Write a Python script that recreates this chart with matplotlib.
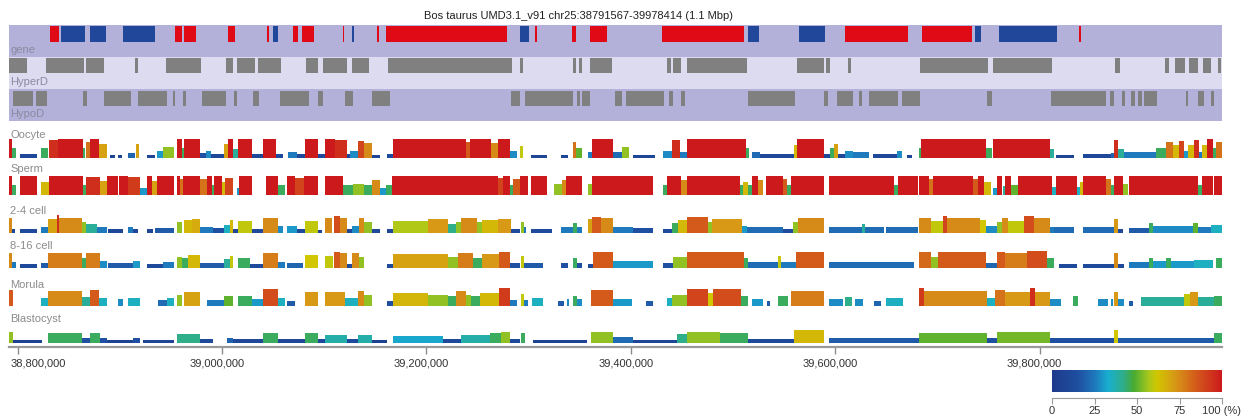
import matplotlib
matplotlib.use('Agg')
import matplotlib.pyplot as plt
import numpy as np
from matplotlib.colors import LinearSegmentedColormap
from matplotlib.transforms import ScaledTranslation, blended_transform_factory

plt.rcParams['font.family'] = ['Liberation Sans', 'DejaVu Sans']

REGION_START = 38791567
REGION_END = 39978414
title = 'Bos taurus UMD3.1_v91 chr25:38791567-39978414 (1.1 Mbp)'

# all positions below are kb from REGION_START
# genes: (start, end, strand)
genes = [(40, 49, '+'), (51, 74, '-'), (79, 95, '-'), (112, 143, '-'), (162, 169, '+'),
         (171, 183, '+'), (214, 221, '+'), (252, 254, '+'), (258, 263, '-'), (278, 283, '+'),
         (287, 298, '+'), (327, 328, '+'), (336, 338, '-'), (360, 362, '+'), (369, 487, '+'),
         (500, 509, '-'), (515, 517, '+'), (551, 555, '+'), (568, 585, '+'), (639, 719, '+'),
         (723, 734, '-'), (773, 798, '-'), (818, 880, '+'), (893, 942, '+'), (945, 951, '-'),
         (969, 1025, '-'), (1047, 1049, '+')]

hyper_d = [(0, 18), (36, 73), (75, 93), (123, 126), (154, 188), (212, 219), (223, 241),
           (244, 266), (291, 302), (307, 331), (336, 352), (371, 492), (500, 503), (552, 555),
           (558, 561), (568, 590), (644, 648), (650, 658), (663, 722), (771, 797), (799, 803),
           (821, 824), (891, 958), (963, 1021), (1082, 1087), (1131, 1135), (1141, 1151),
           (1155, 1163), (1168, 1176), (1183, 1186)]

hypo_d = [(4, 23), (26, 37), (72, 76), (93, 119), (126, 155), (160, 162), (170, 173),
          (189, 212), (220, 223), (239, 245), (265, 294), (302, 307), (329, 337), (355, 373),
          (491, 500), (505, 552), (556, 559), (561, 568), (593, 600), (604, 641), (646, 650),
          (658, 661), (723, 769), (797, 801), (810, 826), (832, 835), (841, 870), (874, 891),
          (957, 962), (1020, 1073), (1077, 1081), (1089, 1092), (1098, 1102), (1105, 1109),
          (1111, 1123), (1152, 1154), (1163, 1169), (1176, 1179)]

# methylation: (start, end, percent)
oocyte = [(0, 3, 100), (3, 7, 45), (11, 27, 10), (31, 38, 45), (39, 48, 95), (48, 72, 100),
          (72, 74, 45), (75, 79, 80), (79, 88, 100), (88, 96, 70), (99, 104, 8), (107, 111, 8),
          (116, 123, 20), (124, 127, 70), (135, 143, 8), (145, 151, 30), (151, 161, 55),
          (164, 169, 100), (169, 171, 45), (171, 187, 100), (187, 193, 15), (193, 198, 28),
          (198, 210, 10), (210, 214, 70), (214, 219, 100), (219, 224, 40), (224, 238, 100),
          (238, 249, 10), (249, 261, 100), (261, 268, 12), (273, 282, 25), (282, 290, 10),
          (290, 302, 100), (302, 309, 12), (309, 319, 100), (319, 331, 95), (331, 334, 10),
          (334, 341, 28), (341, 347, 90), (347, 355, 75), (355, 363, 8), (370, 376, 10),
          (376, 447, 100), (447, 451, 85), (451, 472, 100), (472, 478, 75), (478, 490, 100),
          (490, 497, 28), (500, 503, 60), (511, 526, 8), (540, 547, 8), (552, 555, 80),
          (555, 561, 50), (567, 570, 25), (570, 591, 100), (591, 600, 22), (600, 607, 55),
          (611, 632, 8), (640, 649, 28), (649, 657, 95), (657, 663, 25), (663, 721, 100),
          (721, 724, 45), (727, 735, 22), (735, 768, 10), (768, 771, 65), (771, 797, 100),
          (797, 803, 10), (803, 807, 45), (807, 811, 70), (811, 818, 10), (818, 826, 28),
          (826, 841, 25), (845, 869, 10), (869, 874, 28), (879, 884, 8), (890, 892, 45),
          (892, 956, 100), (956, 962, 45), (963, 1019, 100), (1019, 1022, 40), (1024, 1042, 8),
          (1051, 1078, 10), (1078, 1081, 20), (1081, 1085, 95), (1085, 1091, 40),
          (1091, 1122, 25), (1122, 1132, 45), (1132, 1139, 80), (1139, 1145, 65),
          (1145, 1150, 90), (1150, 1154, 30), (1154, 1159, 65), (1159, 1164, 95),
          (1164, 1167, 25), (1167, 1172, 65), (1172, 1178, 100), (1178, 1181, 45),
          (1181, 1187, 80)]

sperm = [(0, 3, 100), (3, 7, 45), (11, 27, 100), (31, 39, 65), (39, 72, 100), (72, 75, 45),
         (75, 89, 95), (89, 96, 70), (96, 107, 100), (108, 116, 100), (116, 128, 92),
         (128, 135, 30), (135, 140, 100), (140, 145, 70), (145, 161, 100), (164, 167, 100),
         (167, 170, 80), (170, 187, 100), (187, 194, 80), (194, 199, 100), (199, 201, 45),
         (201, 208, 100), (208, 211, 65), (211, 219, 90), (223, 225, 30), (225, 238, 100),
         (251, 263, 100), (263, 270, 45), (272, 280, 100), (280, 289, 90), (289, 302, 100),
         (309, 327, 100), (327, 337, 45), (337, 347, 55), (347, 355, 45), (355, 363, 75),
         (363, 369, 30), (369, 375, 45), (375, 478, 100), (478, 483, 90), (483, 490, 100),
         (490, 493, 45), (493, 500, 85), (500, 508, 100), (511, 526, 100), (533, 541, 55),
         (541, 545, 75), (545, 561, 100), (567, 570, 55), (570, 630, 100), (640, 644, 45),
         (644, 658, 100), (658, 663, 75), (663, 715, 100), (715, 718, 45), (718, 723, 65),
         (723, 727, 45), (727, 733, 100), (733, 738, 75), (741, 757, 100), (757, 761, 85),
         (761, 765, 45), (765, 797, 100), (802, 866, 100), (866, 870, 45), (870, 889, 100),
         (890, 900, 100), (900, 904, 80), (904, 943, 100), (943, 948, 85), (948, 954, 100),
         (954, 961, 65), (963, 967, 30), (967, 972, 100), (973, 975, 40), (975, 980, 100),
         (980, 987, 50), (987, 1021, 100), (1021, 1024, 35), (1024, 1045, 100),
         (1045, 1048, 35), (1048, 1051, 65), (1051, 1073, 100), (1073, 1078, 80),
         (1078, 1081, 45), (1081, 1090, 100), (1090, 1095, 55), (1096, 1163, 100),
         (1163, 1167, 45), (1167, 1178, 100), (1179, 1187, 100)]

cell_2_4 = [(0, 3, 75), (3, 6, 10), (11, 27, 12), (31, 38, 25), (38, 47, 70), (47, 49, 95),
            (49, 71, 75), (71, 75, 55), (75, 86, 40), (86, 96, 25), (97, 112, 10),
            (116, 121, 25), (121, 126, 10), (135, 141, 10), (143, 161, 18), (164, 169, 55),
            (171, 179, 65), (179, 187, 68), (187, 200, 25), (200, 210, 15), (210, 216, 35),
            (216, 219, 65), (219, 224, 10), (224, 238, 60), (238, 249, 12), (249, 263, 75),
            (263, 268, 28), (272, 282, 30), (282, 290, 12), (290, 302, 60), (302, 306, 8),
            (309, 316, 75), (318, 324, 88), (324, 331, 75), (331, 336, 10), (336, 342, 28),
            (342, 347, 75), (347, 355, 55), (355, 363, 10), (370, 376, 10), (376, 410, 58),
            (410, 430, 72), (430, 437, 42), (437, 442, 55), (442, 458, 75), (458, 463, 55),
            (463, 478, 65), (478, 491, 72), (491, 500, 12), (501, 504, 55), (504, 506, 25),
            (511, 531, 12), (540, 552, 25), (552, 556, 45), (556, 561, 25), (567, 570, 70),
            (570, 579, 85), (579, 591, 75), (591, 611, 25), (611, 630, 15), (640, 649, 12),
            (649, 655, 45), (655, 663, 65), (663, 684, 85), (684, 688, 55), (688, 717, 72),
            (717, 722, 30), (722, 757, 22), (757, 767, 12), (767, 772, 55), (772, 797, 75),
            (802, 835, 22), (835, 838, 40), (838, 856, 22), (858, 889, 22), (890, 902, 75),
            (902, 914, 60), (914, 918, 90), (918, 950, 75), (950, 956, 62), (956, 967, 28),
            (967, 972, 55), (972, 977, 75), (977, 993, 60), (993, 1003, 88), (1003, 1019, 75),
            (1019, 1022, 25), (1022, 1042, 22), (1051, 1081, 22), (1081, 1085, 72),
            (1085, 1090, 12), (1096, 1115, 18), (1115, 1119, 45), (1119, 1158, 28),
            (1158, 1163, 50), (1163, 1176, 25), (1176, 1187, 35)]

cell_8_16 = [(0, 3, 75), (3, 7, 25), (11, 27, 12), (31, 38, 18), (38, 71, 78), (71, 75, 45),
             (75, 89, 78), (89, 96, 28), (97, 121, 18), (121, 128, 30), (135, 151, 12),
             (151, 161, 25), (164, 169, 55), (169, 175, 45), (175, 187, 65), (187, 210, 18),
             (210, 216, 40), (216, 219, 60), (224, 236, 45), (236, 249, 12), (249, 263, 78),
             (263, 270, 25), (272, 288, 20), (290, 302, 62), (309, 317, 60), (318, 324, 85),
             (324, 331, 75), (331, 336, 10), (336, 342, 75), (342, 347, 55), (370, 376, 10),
             (376, 430, 70), (430, 439, 55), (439, 454, 78), (454, 463, 45), (463, 479, 72),
             (479, 490, 85), (490, 500, 15), (501, 504, 60), (504, 522, 18), (540, 547, 15),
             (552, 556, 45), (556, 561, 15), (567, 571, 12), (571, 591, 85), (591, 630, 30),
             (640, 650, 15), (650, 663, 55), (663, 719, 85), (719, 723, 45), (723, 752, 22),
             (752, 755, 60), (755, 770, 25), (770, 797, 85), (802, 885, 22), (890, 902, 82),
             (902, 909, 55), (909, 956, 85), (956, 967, 20), (967, 975, 85), (975, 996, 78),
             (996, 1016, 88), (1016, 1022, 45), (1027, 1045, 12), (1051, 1081, 12),
             (1081, 1085, 75), (1085, 1091, 12), (1096, 1115, 25), (1115, 1119, 45),
             (1119, 1132, 30), (1132, 1137, 45), (1137, 1159, 30), (1159, 1178, 35),
             (1181, 1187, 45)]

morula = [(0, 4, 85), (31, 38, 35), (38, 71, 75), (71, 79, 40), (79, 88, 85), (88, 96, 35),
          (107, 112, 28), (116, 128, 35), (146, 155, 22), (155, 161, 35), (164, 169, 55),
          (171, 187, 70), (194, 210, 25), (210, 219, 50), (224, 238, 45), (238, 249, 30),
          (249, 263, 88), (263, 270, 35), (272, 280, 18), (290, 302, 72), (309, 329, 72),
          (329, 341, 35), (341, 347, 75), (347, 355, 55), (370, 376, 15), (376, 410, 66),
          (410, 430, 55), (430, 437, 45), (437, 447, 75), (447, 452, 55), (452, 461, 45),
          (461, 479, 65), (479, 490, 92), (490, 497, 25), (501, 504, 60), (504, 508, 25),
          (512, 522, 35), (537, 543, 18), (546, 548, 28), (552, 556, 45), (556, 561, 28),
          (569, 591, 85), (591, 610, 30), (623, 630, 18), (644, 649, 35), (649, 663, 55),
          (663, 684, 90), (684, 689, 62), (689, 716, 88), (716, 723, 45), (727, 738, 30),
          (742, 745, 18), (752, 762, 45), (765, 797, 78), (802, 816, 28), (818, 825, 42),
          (828, 836, 28), (846, 853, 20), (858, 875, 35), (890, 895, 92), (895, 957, 75),
          (957, 965, 35), (965, 975, 80), (975, 999, 72), (999, 1004, 95), (1004, 1019, 72),
          (1019, 1029, 28), (1041, 1046, 45), (1066, 1075, 28), (1078, 1080, 28),
          (1081, 1085, 72), (1085, 1091, 28), (1096, 1100, 18), (1108, 1150, 40),
          (1150, 1156, 60), (1156, 1163, 72), (1163, 1179, 40), (1179, 1187, 45)]

blastocyst = [(0, 4, 55), (4, 32, 5), (38, 71, 45), (71, 79, 15), (79, 89, 45), (89, 96, 15),
              (96, 121, 5), (121, 128, 15), (131, 161, 8), (164, 187, 42), (187, 200, 12),
              (213, 219, 20), (219, 249, 10), (249, 263, 45), (263, 290, 10), (290, 302, 45),
              (302, 309, 10), (309, 331, 38), (331, 341, 12), (341, 355, 38), (355, 370, 5),
              (376, 425, 32), (425, 442, 12), (442, 471, 38), (471, 481, 45), (481, 490, 55),
              (490, 500, 12), (501, 505, 45), (513, 566, 6), (569, 591, 55), (591, 611, 22),
              (611, 654, 8), (654, 663, 42), (663, 696, 55), (696, 723, 45), (723, 768, 12),
              (768, 797, 65), (802, 890, 18), (890, 957, 50), (957, 967, 15), (967, 1019, 52),
              (1019, 1081, 15), (1081, 1085, 62), (1085, 1179, 18), (1179, 1187, 45)]

stage_names = ['Oocyte', 'Sperm', '2-4 cell', '8-16 cell', 'Morula', 'Blastocyst']
stage_data = [oocyte, sperm, cell_2_4, cell_8_16, morula, blastocyst]
axis_ticks = [38800000, 39000000, 39200000, 39400000, 39600000, 39800000]
cbar_ticks = [0, 25, 50, 75, 100]
cbar_labels = ['0', '25', '50', '75', '100 (%)']

cmap = LinearSegmentedColormap.from_list('meth', [
    (0.00, '#1e3a8c'), (0.15, '#1f4fa0'), (0.25, '#1f78bd'), (0.33, '#19afd0'),
    (0.42, '#2fae8a'), (0.48, '#47ab34'), (0.57, '#a8c81c'), (0.62, '#d2c600'),
    (0.72, '#d79a16'), (0.85, '#d45a1c'), (1.00, '#cc1a1c')])


def to_bp(kb):
    return REGION_START + np.asarray(kb, dtype=float) * 1000


fig = plt.figure(figsize=(12.5, 4.2), dpi=100)
# y in this axes runs in screen rows (top = 22, axis line = 347)
ax = fig.add_axes([9 / 1250, 73 / 420, 1213 / 1250, 325 / 420])
ax.set_xlim(REGION_START, REGION_END)
ax.set_ylim(347, 22)

# annotation bands
ax.axhspan(25, 57, color='#b3b1da', lw=0)
ax.axhspan(57, 89, color='#dddbef', lw=0)
ax.axhspan(89, 121, color='#b3b1da', lw=0)

g_s = np.array([g[0] for g in genes])
g_e = np.array([g[1] for g in genes])
g_c = ['#e00a16' if g[2] == '+' else '#21479a' for g in genes]
ax.bar(to_bp(g_s), 16, width=(g_e - g_s) * 1000, bottom=26, align='edge', color=g_c, lw=0)

for segs, top in [(hyper_d, 58), (hypo_d, 91)]:
    s = np.array([d[0] for d in segs])
    e = np.array([d[1] for d in segs])
    ax.bar(to_bp(s), 15, width=(e - s) * 1000, bottom=top, align='edge', color='#808080', lw=0)

# methylation tracks
base_rows = [158, 195, 233, 268, 306, 343]
H = 19
for segs, base in zip(stage_data, base_rows):
    arr = np.array(segs, dtype=float)
    s, e, v = arr[:, 0], arr[:, 1], arr[:, 2]
    h = 2 + v / 100 * (H - 2)
    ax.bar(to_bp(s), -h, width=(e - s) * 1000, bottom=base, align='edge',
           color=cmap(v / 100), lw=0)

trans = blended_transform_factory(ax.transAxes, ax.transData)
for name, row in [('gene', 50), ('HyperD', 82), ('HypoD', 114)]:
    ax.text(0.001, row, name, transform=trans, fontsize=8, color='#8a8aa0', va='center', ha='left')
for name, row in zip(stage_names, [135, 169, 211, 246, 285, 319]):
    ax.text(0.001, row, name, transform=trans, fontsize=8, color='#8c8c8c', va='center', ha='left')

for sp in ['left', 'right', 'top']:
    ax.spines[sp].set_visible(False)
ax.spines['bottom'].set_color('#9a9a9a')
ax.spines['bottom'].set_linewidth(1.6)
ax.set_yticks([])
ax.set_xticks(axis_ticks)
ax.set_xticklabels([f'{t:,}' for t in axis_ticks])
ax.tick_params(axis='x', length=5, width=1, color='#8c8c8c', labelsize=8, labelcolor='#333333', pad=3)
for i, lab in enumerate(ax.get_xticklabels()):
    if i == 0:
        lab.set_ha('left')
        lab.set_transform(lab.get_transform() + ScaledTranslation(-7 / 100, 0, fig.dpi_scale_trans))
    else:
        lab.set_transform(lab.get_transform() + ScaledTranslation(-5 / 100, 0, fig.dpi_scale_trans))

fig.text(579 / 1250, 1 - 16 / 420, title, ha='center', va='center', fontsize=8, color='#222222')

# colour scale
cax = fig.add_axes([1052 / 1250, 28 / 420, 170 / 1250, 22 / 420])
cax.imshow(np.linspace(0, 1, 256)[None, :], aspect='auto', cmap=cmap, extent=[0, 100, 0, 1])
cax.axis('off')

tax = fig.add_axes([1052 / 1250, 22 / 420, 170 / 1250, 0.0005])
tax.set_xlim(0, 100)
for sp in ['left', 'right', 'top']:
    tax.spines[sp].set_visible(False)
tax.spines['bottom'].set_color('#9a9a9a')
tax.set_yticks([])
tax.set_xticks(cbar_ticks)
tax.set_xticklabels(cbar_labels)
tax.tick_params(axis='x', length=4, color='#9a9a9a', labelsize=8, labelcolor='#333333', pad=2)

fig.savefig('out.png', dpi=100)
